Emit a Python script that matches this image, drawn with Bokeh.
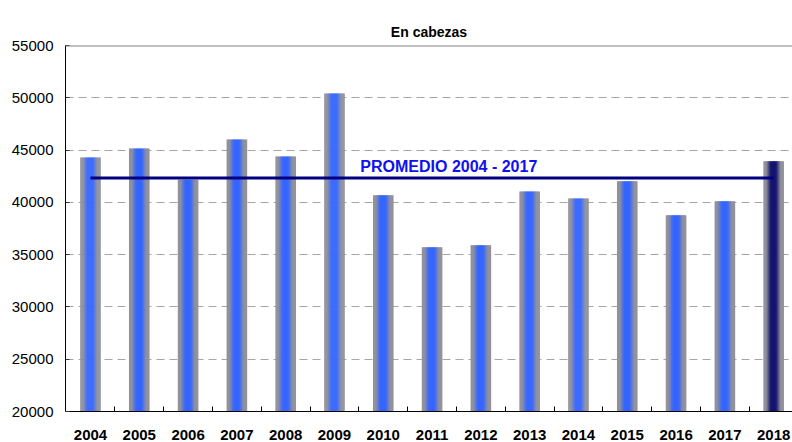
from bokeh.plotting import figure
from bokeh.models import (ColumnDataSource, Range1d, FixedTicker, Span, Label,
                          LinearAxis, Grid)
from bokeh.transform import dodge
from bokeh.embed import file_html
from bokeh.resources import INLINE

# ---- data ----
years = ["2004", "2005", "2006", "2007", "2008", "2009", "2010", "2011",
         "2012", "2013", "2014", "2015", "2016", "2017", "2018"]
heads = [44300, 45160, 42170, 46020, 44395, 50414, 40670, 35700,
         35890, 41050, 40380, 42010, 38760, 40100, 43920]
average_2004_2017 = 42320
average_label = "PROMEDIO 2004 - 2017"
subtitle = "En cabezas"
y_ticks = [20000, 25000, 30000, 35000, 40000, 45000, 50000, 55000]

FONT = "Liberation Sans"

idx = list(range(len(years)))

p = figure(width=792, height=442, output_backend="svg", toolbar_location=None,
           x_range=Range1d(-0.512, 14.386), y_range=Range1d(20000, 55000),
           min_border_left=65, min_border_right=0, min_border_top=45,
           min_border_bottom=31, x_axis_type=None, y_axis_type=None)
p.outline_line_color = None
p.background_fill_color = "white"
p.border_fill_color = "white"

p.title.text = subtitle
p.title.align = "center"
p.title.text_font = FONT
p.title.text_font_size = "14px"
p.title.text_font_style = "bold"
p.title.text_color = "black"
p.title.standoff = 12

# axes
xaxis = LinearAxis(ticker=FixedTicker(ticks=idx, minor_ticks=[i + 0.5 for i in idx[:-1]]))
xaxis.major_label_overrides = {i: y for i, y in zip(idx, years)}
xaxis.major_tick_line_color = None
xaxis.minor_tick_in = 5
xaxis.minor_tick_out = 0
xaxis.minor_tick_line_color = "black"
xaxis.axis_line_color = "black"
xaxis.major_label_text_font = FONT
xaxis.major_label_text_font_size = "15px"
xaxis.major_label_text_font_style = "bold"
xaxis.major_label_text_color = "black"
xaxis.major_label_standoff = 12
p.add_layout(xaxis, "below")

yaxis = LinearAxis(ticker=FixedTicker(ticks=y_ticks, minor_ticks=[]))
yaxis.major_tick_in = 4
yaxis.major_tick_out = 0
yaxis.major_tick_line_color = "#333333"
yaxis.axis_line_color = "black"
yaxis.major_label_text_font = FONT
yaxis.major_label_text_font_size = "15px"
yaxis.major_label_text_color = "black"
yaxis.major_label_standoff = 12
p.add_layout(yaxis, "left")

# grid
grid = Grid(dimension=1, ticker=FixedTicker(ticks=y_ticks[1:-1]),
            grid_line_color="#a6a6a6", grid_line_dash="8 5", grid_line_width=1)
p.add_layout(grid)
p.add_layout(Span(location=y_ticks[-1], dimension="width",
                  line_color="#808080", line_width=2))

# bars drawn as gradient strips
def hex2rgb(h):
    h = h.lstrip("#")
    return tuple(int(h[i:i + 2], 16) for i in (0, 2, 4))

def mix(a, b, t):
    a, b = hex2rgb(a), hex2rgb(b)
    return "#%02x%02x%02x" % tuple(int(round(a[i] + (b[i] - a[i]) * t)) for i in range(3))

edge = "#92929c"
centre_normal = "#3566ff"
centre_last = "#12126e"
bar_w = 0.41
n_strips = 20
sw = bar_w / n_strips

data = dict(x=idx, top=heads)
offsets = []
for k in range(n_strips):
    off = -bar_w / 2 + (k + 0.5) * sw
    offsets.append(off)
    t = abs(off) / (bar_w / 2)
    u = min(1.0, max(0.0, (t - 0.2) / 0.6))
    s = u * u * (3 - 2 * u)
    data[f"c{k}"] = [mix(centre_last if i == len(idx) - 1 else centre_normal, edge, s)
                     for i in idx]
src = ColumnDataSource(data)
for k, off in enumerate(offsets):
    p.vbar(x=dodge("x", off), top="top", bottom=20000, width=sw * 1.6,
           source=src, fill_color=f"c{k}", line_color=None)

# average line
p.line(x=[idx[0], idx[-1]], y=[average_2004_2017, average_2004_2017],
       line_color="#000080", line_width=3)
p.add_layout(Label(x=5.53, y=43440, text=average_label, text_font=FONT,
                   text_font_size="16px", text_font_style="bold",
                   text_color="#1010f0", text_baseline="alphabetic"))

open("out.html", "w").write(file_html(p, INLINE))
